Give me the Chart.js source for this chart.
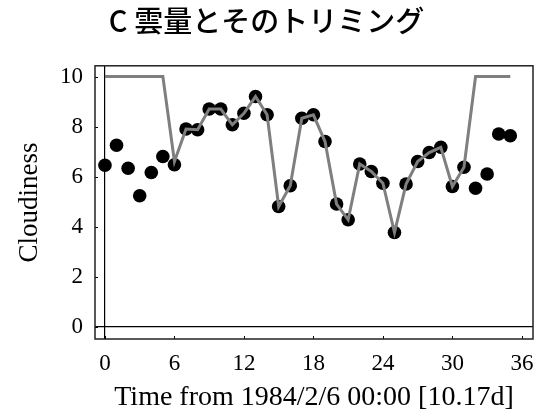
<!DOCTYPE html>
<html>
<head>
<meta charset="utf-8">
<script src="https://cdn.jsdelivr.net/npm/chart.js@4.4.1/dist/chart.umd.min.js"></script>
<style>
html,body{margin:0;padding:0;background:#fff;}
#wrap{width:545px;height:416px;}
</style>
</head>
<body>
<div id="wrap"><canvas id="c" width="545" height="416"></canvas></div>
<script>
// Time steps (x) and cloudiness values
const timeSteps = [0,1,2,3,4,5,6,7,8,9,10,11,12,13,14,15,16,17,18,19,20,21,22,23,24,25,26,27,28,29,30,31,32,33,34,35];
const cloudiness = [6.45,7.25,6.33,5.23,6.16,6.8,6.47,7.9,7.87,8.7,8.7,8.07,8.53,9.2,8.47,4.8,5.63,8.33,8.47,7.4,4.9,4.27,6.5,6.2,5.73,3.76,5.7,6.6,6.96,7.17,5.6,6.37,5.53,6.1,7.7,7.63];
const trimmed = [10,10,10,10,10,10,6.6,7.9,7.87,8.7,8.7,8.07,8.53,9.2,8.47,4.8,5.63,8.33,8.47,7.4,4.9,4.27,6.5,6.2,5.73,3.76,5.7,6.6,6.96,7.17,5.6,6.37,10,10,10,10];
const xTicks = [0,6,12,18,24,30,36];
const yTicks = [0,2,4,6,8,10];
const titleText = 'C 雲量とそのトリミング';
const xTitle = 'Time from 1984/2/6 00:00 [10.17d]';
const yTitle = 'Cloudiness';

const serif = '"Liberation Serif", "DejaVu Serif", serif';

const framePlugin = {
  id: 'frame',
  beforeDatasetsDraw(chart) {
    const {ctx, chartArea: a, scales} = chart;
    ctx.save();
    ctx.strokeStyle = '#000';
    ctx.lineWidth = 1;
    ctx.beginPath();
    xTicks.forEach(v => {
      const px = Math.round(scales.x.getPixelForValue(v)) + 0.5;
      ctx.moveTo(px, a.bottom);
      ctx.lineTo(px, a.bottom - 3);
    });
    yTicks.forEach(v => {
      const py = Math.round(scales.y.getPixelForValue(v)) + 0.5;
      ctx.moveTo(a.left, py);
      ctx.lineTo(a.left + 3, py);
    });
    ctx.stroke();
    ctx.restore();
  },
  afterDraw(chart) {
    const {ctx, chartArea: a} = chart;
    ctx.save();
    ctx.strokeStyle = '#222';
    ctx.lineWidth = 1.5;
    ctx.strokeRect(a.left, a.top, a.right - a.left, a.bottom - a.top);
    ctx.restore();
  }
};

new Chart(document.getElementById('c'), {
  type: 'scatter',
  data: {
    datasets: [
      {
        label: 'trimmed',
        data: timeSteps.map((t, i) => ({x: t, y: trimmed[i]})),
        showLine: true,
        borderColor: '#7f7f7f',
        borderWidth: 3,
        pointRadius: 0,
        fill: false,
        tension: 0
      },
      {
        label: 'cloudiness',
        data: timeSteps.map((t, i) => ({x: t, y: cloudiness[i]})),
        showLine: false,
        pointRadius: 6.8,
        pointBackgroundColor: '#000',
        pointBorderColor: '#000',
        pointBorderWidth: 0,
        pointStyle: 'circle'
      }
    ]
  },
  options: {
    responsive: false,
    animation: false,
    layout: {padding: {left: 0, right: 12, top: 4, bottom: 0}},
    plugins: {
      legend: {display: false},
      tooltip: {enabled: false},
      title: {
        display: true,
        text: titleText,
        color: '#000',
        font: {family: '"Noto Sans CJK JP", sans-serif', size: 29, weight: '500'},
        padding: {top: 0, bottom: 27}
      }
    },
    scales: {
      x: {
        type: 'linear',
        min: -0.86,
        max: 36.96,
        afterBuildTicks(s) { s.ticks = xTicks.map(v => ({value: v})); },
        afterFit(s) { s.height = 77; },
        grid: {
          drawTicks: false,
          color: c => (c.tick && c.tick.value === 0) ? '#000' : 'rgba(0,0,0,0)',
          lineWidth: 1.2
        },
        border: {display: false},
        ticks: {color: '#000', font: {family: serif, size: 23}, padding: 11, maxRotation: 0, autoSkip: false},
        title: {display: true, text: xTitle, color: '#000', font: {family: serif, size: 28}, padding: {top: 0, bottom: 2}}
      },
      y: {
        type: 'linear',
        min: -0.5,
        max: 10.43,
        afterBuildTicks(s) { s.ticks = yTicks.map(v => ({value: v})); },
        afterFit(s) { s.width = 95; },
        grid: {
          drawTicks: false,
          color: c => (c.tick && c.tick.value === 0) ? '#000' : 'rgba(0,0,0,0)',
          lineWidth: 1.2
        },
        border: {display: false},
        ticks: {color: '#000', font: {family: serif, size: 23}, padding: 12},
        title: {display: true, text: yTitle, color: '#000', font: {family: serif, size: 27}, padding: {top: 14, bottom: 0}}
      }
    }
  },
  plugins: [framePlugin]
});
</script>
</body>
</html>
